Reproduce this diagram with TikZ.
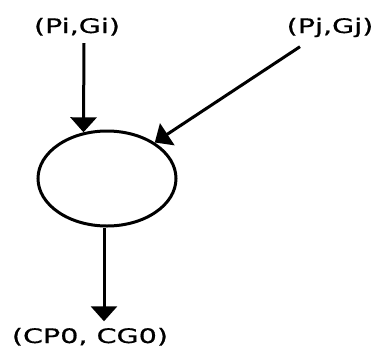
\documentclass[tikz,border=0pt]{standalone}
\usepackage{fontspec}
\setmainfont{DejaVu Sans}
\newfontfamily\lblfont{DejaVu Sans}[FakeBold=0.6]
\usetikzlibrary{arrows.meta,shapes.geometric}
\tikzset{
  lbl/.style={anchor=base, inner sep=3.33pt, font=\lblfont\fontsize{20}{22}\selectfont},
  conn/.style={line width=3pt, -{Triangle[length=15pt,width=26pt]}},
  gate/.style={ellipse, draw, line width=3pt, minimum width=138pt, minimum height=95pt, inner sep=0pt}
}
\newcommand{\wide}[1]{\scalebox{1.43}[1]{#1}}
\begin{document}
\begin{tikzpicture}[x=1pt,y=-1pt]
\useasboundingbox (0,0) rectangle (373,349);
\node[lbl] (pi) at (77,33) {\wide{(Pi,Gi)}};
\node[lbl] (pj) at (330,33) {\wide{(Pj,Gj)}};
\node[lbl] (out) at (90,343) {\wide{(CP0, CG0)}};
\node[gate] (e) at (107,178.5) {};
\draw[conn] ([xshift=7pt,yshift=-4pt]pi.south) -- (e.117);
\draw[conn] ([xshift=-30pt,yshift=-6pt]pj.south) -- (e.37);
\draw[conn] ([xshift=-3pt]e.south) -- ([xshift=14pt,yshift=3pt]out.north);
\end{tikzpicture}
\end{document}
